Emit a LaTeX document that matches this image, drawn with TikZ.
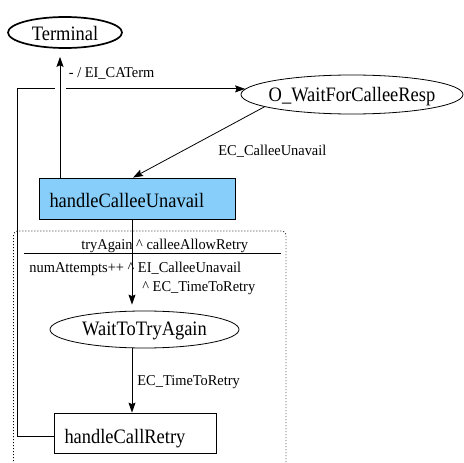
\documentclass[tikz,border=0pt]{standalone}
\usepackage{fontspec}
\setmainfont{Liberation Serif}
\newfontfamily\bigserif[FakeStretch=0.9]{Liberation Serif}
\newfontfamily\labserif[FakeStretch=0.96]{Liberation Serif}
\usetikzlibrary{arrows.meta,calc,shapes.geometric}
\definecolor{boxblue}{RGB}{135,206,250}
\newcommand{\ctxt}[2]{\raisebox{-#1pt}[0pt][0pt]{\makebox[0pt]{#2}}}
\newcommand{\ltxt}[3]{\raisebox{-#1pt}[0pt][0pt]{\makebox[#2pt][l]{\hspace{10.5pt}#3}}}
\begin{document}
\begin{tikzpicture}[x=1pt,y=-1pt,
  line width=0.8pt,
  bigfont/.style={font=\bigserif\fontsize{20.5}{24}\selectfont},
  lab/.style={font=\labserif\fontsize{15}{18}\selectfont, inner sep=0pt, anchor=base west},
  stateell/.style={draw, ellipse, inner sep=0pt, bigfont},
  statebox/.style={draw, rectangle, inner sep=0pt, bigfont},
  arr/.style={-{Stealth[length=10pt,width=7pt,inset=1.5pt]}},
  dotline/.style={dash pattern=on 0.9pt off 2.1pt, rounded corners=4pt},
]
\useasboundingbox (0,0) rectangle (464,463);

% states
\node[stateell, line width=1.7pt, minimum width=114pt, minimum height=31pt] (term) at (65,32.5) {\ctxt{8.5}{Terminal}};
\node[stateell, minimum width=222pt, minimum height=39pt] (wait) at (352,94.5) {\ctxt{7.2}{O\_WaitForCalleeResp}};
\node[statebox, fill=boxblue, minimum width=196pt, minimum height=41pt] (cu) at (137,198.5) {\ltxt{9.2}{196}{handleCalleeUnavail}};
\node[stateell, minimum width=189pt, minimum height=37pt] (wait2) at (144.5,329.5) {\ctxt{6.2}{WaitToTryAgain}};
\node[statebox, minimum width=162pt, minimum height=40pt] (retry) at (135,433) {\ltxt{10.3}{162}{handleCallRetry}};

\coordinate (tx) at (60,0);
\coordinate (vx) at (132,0);

% dotted region
\draw[dotline] (13.5,470) -- (13.5,231) -- (286,231) -- (286,470);
\draw (24,253.5) -- (281,253.5);

% loop from handleCallRetry to O_WaitForCalleeResp
\draw[arr] ($(retry.west)+(0,3.5)$) -- ++(-36,0) |- (wait.177);
\fill[white] (54.5,86) rectangle (65.5,92);

% connectors
\draw[arr, shorten >=8pt] (cu.north -| tx) -- (term.south -| tx);
\draw[arr] (wait.188) -- ($(cu.north)+(-4,0)$);
\draw[arr, shorten >=6pt] (cu.south -| vx) -- (wait2.north -| vx);
\draw[arr] (wait2.south -| vx) -- (retry.north -| vx);

% labels
\node[lab] (l1) at (68.5,77.5) {- / EI\_CATerm};
\node[lab] (l2) at (218,155) {EC\_CalleeUnavail};
\node[lab] (l3) at (81,249) {tryAgain \textasciicircum{} calleeAllowRetry};
\node[lab] (l4) at (29,272) {numAttempts++ \textasciicircum{} EI\_CalleeUnavail};
\node[lab] (l5) at (142,291) {\textasciicircum{} EC\_TimeToRetry};
\node[lab] (l6) at (137,385) {EC\_TimeToRetry};
\end{tikzpicture}
\end{document}
